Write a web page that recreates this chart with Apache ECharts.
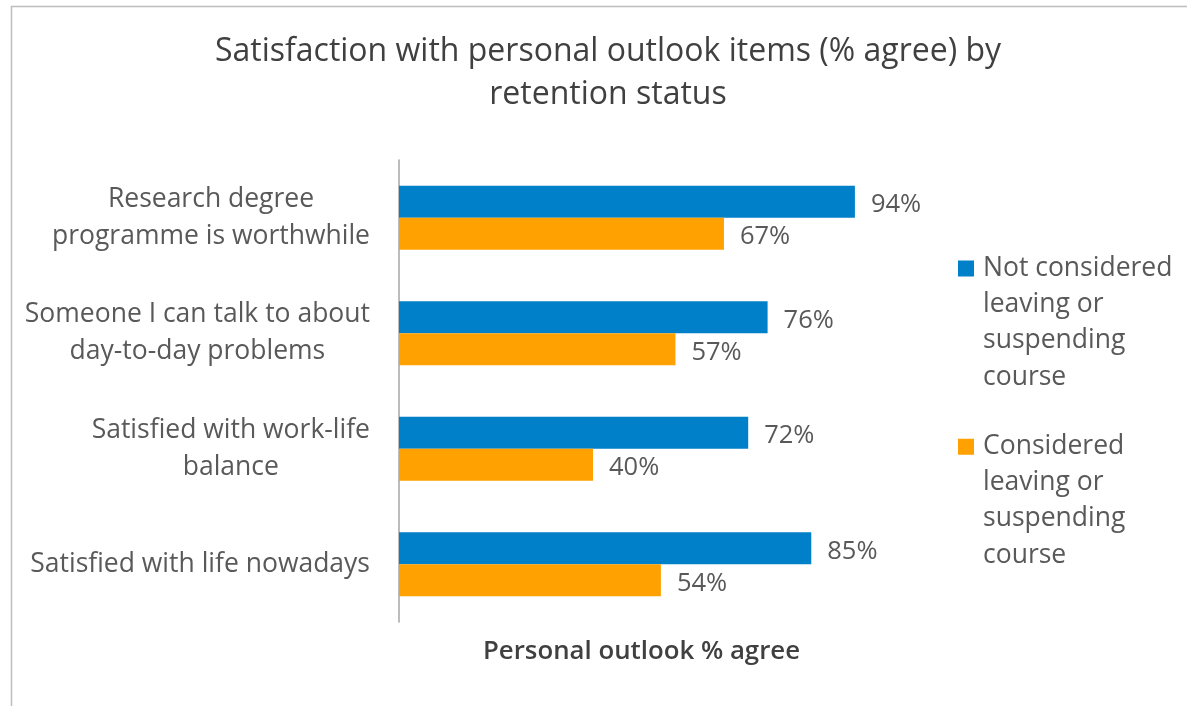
<!DOCTYPE html>
<html>
<head>
<meta charset="utf-8">
<script src="https://cdn.jsdelivr.net/npm/echarts@6/dist/echarts.min.js"></script>
<style>
  html, body { margin: 0; padding: 0; background: #ffffff; }
  #chart { width: 1187px; height: 706px; }
</style>
</head>
<body>
<div id="chart"></div>
<script>
// Survey items (top to bottom) and % agree for each retention group
const categories = [
  'Research degree\nprogramme is worthwhile',
  'Someone I can talk to about\nday-to-day problems',
  'Satisfied with work-life\nbalance',
  'Satisfied with life nowadays'
];
const notConsidered = [94, 76, 72, 85];
const considered = [67, 57, 40, 54];
const seriesNames = [
  'Not considered\nleaving or\nsuspending\ncourse',
  'Considered\nleaving or\nsuspending\ncourse'
];
const titleText = 'Satisfaction with personal outlook items (% agree) by\nretention status';
const axisName = 'Personal outlook % agree';

const FONT = '"Open Sans", "Noto Sans", sans-serif';
const TEXT = '#595959';
const BLUE = '#0080c8';
const ORANGE = '#ffa100';

// Legend marker: a 16px square at the top of a tall box so it lines up with the first text line
const legendIcon = 'path://M0,0H16V16H0Z M0,122H16';

const chart = echarts.init(document.getElementById('chart'), null, { renderer: 'canvas' });

chart.setOption({
  backgroundColor: '#ffffff',
  animation: false,
  textStyle: { fontFamily: FONT },
  graphic: [{
    type: 'rect',
    shape: { x: 11.5, y: 6.5, width: 1300, height: 900 },
    style: { fill: 'none', stroke: '#bdbdbd', lineWidth: 1.5 },
    silent: true,
    z: -1
  }],
  title: {
    text: titleText,
    left: 603,
    textAlign: 'center',
    top: 25,
    textStyle: {
      fontFamily: FONT,
      fontSize: 32,
      fontWeight: 'normal',
      color: '#404040',
      lineHeight: 43
    }
  },
  legend: {
    orient: 'vertical',
    left: 958,
    top: 250,
    padding: 0,
    itemWidth: 16,
    itemHeight: 124,
    itemGap: 33,
    icon: 'path://M0,0H16V16H0Z M0,124H16',
    selectedMode: false,
    textStyle: {
      fontFamily: FONT,
      fontSize: 26.5,
      color: TEXT,
      lineHeight: 36.3,
      padding: [0, 0, 0, 4]
    }
  },
  grid: {
    left: 399,
    right: 303,
    top: 160,
    bottom: 84,
    containLabel: false
  },
  xAxis: {
    type: 'value',
    min: 0,
    max: 100,
    name: axisName,
    nameLocation: 'middle',
    nameGap: 17,
    nameTextStyle: {
      fontFamily: FONT,
      fontSize: 25.8,
      fontWeight: 600,
      color: '#404040'
    },
    axisLine: { show: false },
    axisTick: { show: false },
    axisLabel: { show: false },
    splitLine: { show: false }
  },
  yAxis: {
    type: 'category',
    data: categories,
    inverse: true,
    axisLine: { show: true, lineStyle: { color: '#a6a6a6', width: 1.5 } },
    axisTick: { show: false },
    axisLabel: {
      margin: 29,
      fontFamily: FONT,
      fontSize: 26.5,
      color: TEXT,
      lineHeight: 37,
      align: 'right',
      formatter: function (v) {
        return v.split('\n').map(function (s) { return '{c|' + s + '}'; }).join('\n');
      },
      rich: {
        c: { align: 'center', fontFamily: FONT, fontSize: 26.5, color: TEXT, lineHeight: 37 }
      }
    }
  },
  series: [
    {
      name: seriesNames[0],
      type: 'bar',
      data: notConsidered,
      barWidth: 32,
      barGap: '0%',
      itemStyle: { color: BLUE },
      label: {
        show: true,
        position: 'right',
        distance: 16,
        offset: [0, 3],
        formatter: '{c}%',
        fontFamily: FONT,
        fontSize: 25.5,
        color: TEXT
      }
    },
    {
      name: seriesNames[1],
      type: 'bar',
      data: considered,
      barWidth: 32,
      barGap: '0%',
      itemStyle: { color: ORANGE },
      label: {
        show: true,
        position: 'right',
        distance: 16,
        offset: [0, 3],
        formatter: '{c}%',
        fontFamily: FONT,
        fontSize: 25.5,
        color: TEXT
      }
    }
  ]
});
</script>
</body>
</html>
